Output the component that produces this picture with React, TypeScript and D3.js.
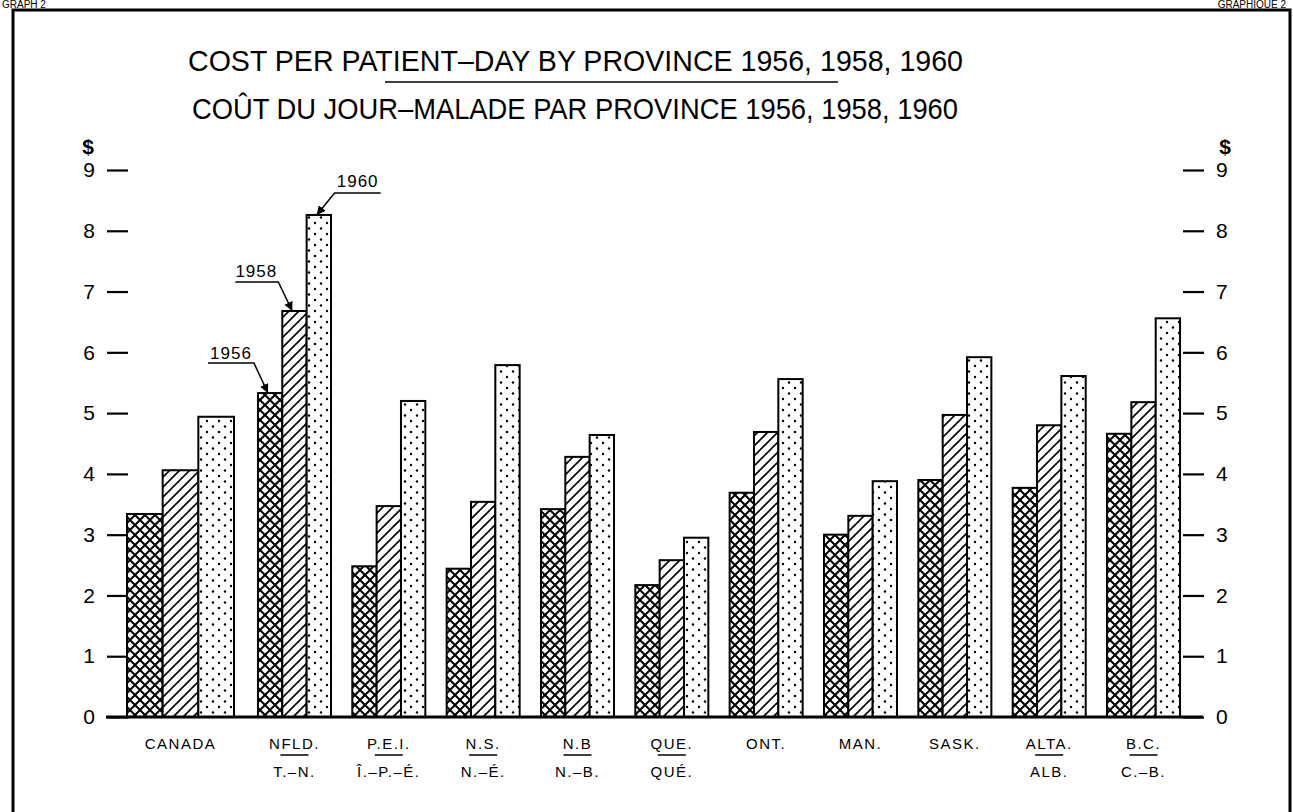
import * as d3 from 'd3';
import { useEffect, useRef } from 'react';

const provinces = ['NFLD', 'PEI', 'NS', 'NB', 'QUE', 'ONT', 'MAN', 'SASK', 'ALTA', 'BC'];
const years = ['1956', '1958', '1960'];

const labelTop: Record<string, string> = {
    CANADA: 'CANADA',
    NFLD: 'NFLD.',
    PEI: 'P.E.I.',
    NS: 'N.S.',
    NB: 'N.B',
    QUE: 'QUE.',
    ONT: 'ONT.',
    MAN: 'MAN.',
    SASK: 'SASK.',
    ALTA: 'ALTA.',
    BC: 'B.C.',
};
const labelBottom: Record<string, string> = {
    NFLD: 'T.–N.',
    PEI: 'Î.–P.–É.',
    NS: 'N.–É.',
    NB: 'N.–B.',
    QUE: 'QUÉ.',
    ALTA: 'ALB.',
    BC: 'C.–B.',
};

// dollars per patient-day
const canada = [3.34, 4.06, 4.94];
const cost1956 = [5.33, 2.48, 2.44, 3.42, 2.17, 3.69, 3.0, 3.9, 3.77, 4.66];
const cost1958 = [6.68, 3.47, 3.54, 4.28, 2.58, 4.69, 3.31, 4.97, 4.8, 5.18];
const cost1960 = [8.26, 5.2, 5.79, 4.64, 2.95, 5.56, 3.88, 5.92, 5.61, 6.56];

const yTicks = [0, 1, 2, 3, 4, 5, 6, 7, 8, 9];

const FONT = '"Liberation Sans", "DejaVu Sans", sans-serif';
const fills = ['url(#cross)', 'url(#hatch)', 'url(#dots)'];

export default function App() {
    const leftRef = useRef<SVGGElement>(null);
    const rightRef = useRef<SVGGElement>(null);

    const y = d3.scaleLinear().domain([0, 9]).range([717, 170]);
    const x = d3
        .scaleBand()
        .domain(provinces)
        .range([247.3, 1190.7])
        .paddingInner(0.226)
        .paddingOuter(0.113);
    const xCanada = d3.scaleBand().domain(['CANADA']).range([127, 234]);
    const inner = d3.scaleBand().domain(years).range([0, x.bandwidth()]);
    const innerCanada = d3.scaleBand().domain(years).range([0, xCanada.bandwidth()]);

    const series = [cost1956, cost1958, cost1960];

    useEffect(() => {
        const left = d3.select(leftRef.current);
        left.selectAll('*').remove();
        left.call(d3.axisLeft(y).tickValues(yTicks).tickSize(21).tickPadding(12).tickFormat(d3.format('d')));
        const right = d3.select(rightRef.current);
        right.selectAll('*').remove();
        right.call(d3.axisRight(y).tickValues(yTicks).tickSize(21).tickPadding(12).tickFormat(d3.format('d')));
        [left, right].forEach((g) => {
            g.select('.domain').remove();
            g.selectAll('line').attr('stroke', '#000').attr('stroke-width', 2.2);
            g.selectAll('text')
                .attr('font-family', FONT)
                .attr('font-size', 21)
                .attr('fill', '#000');
        });
    });

    // annotation anchors: top-left of each NFLD bar
    const tip = (i: number) => ({
        x: (x('NFLD') ?? 0) + (inner(years[i]) ?? 0) + 10,
        y: y(series[i][0]),
    });
    const t0 = tip(0),
        t1 = tip(1),
        t2 = tip(2);

    const catLabels = ['CANADA', ...provinces].map((k) => ({
        k,
        cx: k === 'CANADA' ? (xCanada('CANADA') ?? 0) + xCanada.bandwidth() / 2 : (x(k) ?? 0) + x.bandwidth() / 2,
    }));

    return (
        <svg
            width={1293}
            height={812}
            style={{ position: 'absolute', left: 0, top: 0, background: '#fff' }}
        >
            <defs>
                <pattern id="cross" patternUnits="userSpaceOnUse" width={10} height={10}>
                    <rect width={10} height={10} fill="#fff" />
                    <path d="M0,0 L10,10 M10,0 L0,10" stroke="#000" strokeWidth={2} />
                </pattern>
                <pattern id="hatch" patternUnits="userSpaceOnUse" width={10} height={10}>
                    <rect width={10} height={10} fill="#fff" />
                    <path d="M0,10 L10,0 M-2,2 L2,-2 M8,12 L12,8" stroke="#000" strokeWidth={1.6} />
                </pattern>
                <pattern id="dots" patternUnits="userSpaceOnUse" width={12} height={11}>
                    <rect width={12} height={11} fill="#fff" />
                    <circle cx={3} cy={3} r={1.2} fill="#000" />
                    <circle cx={9} cy={8.5} r={1.2} fill="#000" />
                </pattern>
                <marker
                    id="arrow"
                    viewBox="0 0 10 10"
                    refX={10}
                    refY={5}
                    markerWidth={9}
                    markerHeight={9}
                    markerUnits="userSpaceOnUse"
                    orient="auto"
                >
                    <path d="M0,0 L10,5 L0,10 z" fill="#000" />
                </marker>
            </defs>

            {/* page corner captions */}
            <text x={2} y={8} fontFamily={FONT} fontSize={10} fill="#000">
                GRAPH 2
            </text>
            <text x={1286} y={8} fontFamily={FONT} fontSize={10} fill="#000" textAnchor="end">
                GRAPHIQUE 2
            </text>
            <rect x={13} y={10} width={1277} height={900} fill="none" stroke="#000" strokeWidth={3} />

            {/* title */}
            <text x={188} y={71} fontFamily={FONT} fontSize={30} textLength={775} lengthAdjust="spacingAndGlyphs">
                COST PER PATIENT–DAY BY PROVINCE 1956, 1958, 1960
            </text>
            <line x1={385} x2={838} y1={82} y2={82} stroke="#000" strokeWidth={1.5} />
            <text x={192} y={119} fontFamily={FONT} fontSize={30} textLength={766} lengthAdjust="spacingAndGlyphs">
                COÛT DU JOUR–MALADE PAR PROVINCE 1956, 1958, 1960
            </text>

            {/* axes */}
            <g ref={leftRef} transform="translate(128,0)" />
            <g ref={rightRef} transform="translate(1183,0)" />
            <text x={88} y={y(9) - 16} fontFamily={FONT} fontSize={21} fontWeight="bold" textAnchor="middle">
                $
            </text>
            <text x={1225} y={y(9) - 16} fontFamily={FONT} fontSize={21} fontWeight="bold" textAnchor="middle">
                $
            </text>

            {/* bars */}
            {years.map((yr, i) => (
                <rect
                    key={'c' + yr}
                    x={(xCanada('CANADA') ?? 0) + (innerCanada(yr) ?? 0)}
                    y={y(canada[i])}
                    width={innerCanada.bandwidth()}
                    height={y(0) - y(canada[i])}
                    fill={fills[i]}
                    stroke="#000"
                    strokeWidth={2}
                />
            ))}
            {provinces.map((p, j) =>
                years.map((yr, i) => (
                    <rect
                        key={p + yr}
                        x={(x(p) ?? 0) + (inner(yr) ?? 0)}
                        y={y(series[i][j])}
                        width={inner.bandwidth()}
                        height={y(0) - y(series[i][j])}
                        fill={fills[i]}
                        stroke="#000"
                        strokeWidth={2}
                    />
                ))
            )}
            <line x1={106} x2={1203} y1={y(0)} y2={y(0)} stroke="#000" strokeWidth={3} />

            {/* year callouts */}
            <g fontFamily={FONT} fontSize={17} fill="#000" stroke="none" letterSpacing={1}>
                <text x={t0.x - 37} y={t0.y - 34} textAnchor="middle">1956</text>
                <path
                    d={`M${t0.x - 60},${t0.y - 30} L${t0.x - 14},${t0.y - 30} L${t0.x},${t0.y}`}
                    fill="none"
                    stroke="#000"
                    strokeWidth={1.5}
                    markerEnd="url(#arrow)"
                />
                <text x={t1.x - 36} y={t1.y - 34} textAnchor="middle">1958</text>
                <path
                    d={`M${t1.x - 57},${t1.y - 29} L${t1.x - 14},${t1.y - 29} L${t1.x},${t1.y}`}
                    fill="none"
                    stroke="#000"
                    strokeWidth={1.5}
                    markerEnd="url(#arrow)"
                />
                <text x={t2.x + 41} y={t2.y - 28} textAnchor="middle">1960</text>
                <path
                    d={`M${t2.x + 64},${t2.y - 22} L${t2.x + 18},${t2.y - 22} L${t2.x},${t2.y}`}
                    fill="none"
                    stroke="#000"
                    strokeWidth={1.5}
                    markerEnd="url(#arrow)"
                />
            </g>

            {/* category labels */}
            <g fontFamily={FONT} fontSize={15} fill="#000" textAnchor="middle" letterSpacing={1.5}>
                {catLabels.map(({ k, cx }) => (
                    <g key={k}>
                        <text x={cx} y={749}>{labelTop[k]}</text>
                        {labelBottom[k] && (
                            <>
                                <line x1={cx - 14} x2={cx + 14} y1={755} y2={755} stroke="#000" strokeWidth={1.5} />
                                <text x={cx} y={777}>{labelBottom[k]}</text>
                            </>
                        )}
                    </g>
                ))}
            </g>
        </svg>
    );
}
